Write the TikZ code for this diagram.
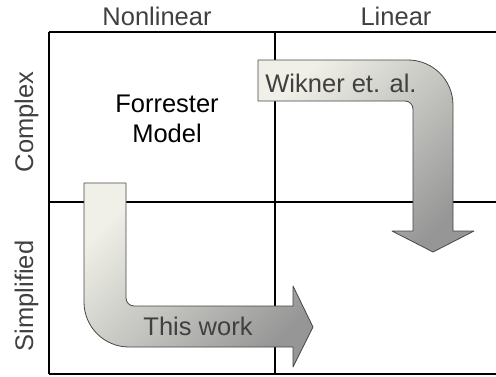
\documentclass[tikz,border=0pt]{standalone}
\usepackage{fontspec}
\setmainfont{Liberation Sans}
\definecolor{labelgray}{RGB}{64,64,64}
\definecolor{arrowlight}{RGB}{240,240,232}
\definecolor{arrowdark}{RGB}{150,150,150}
\definecolor{rimgray}{RGB}{70,70,70}
\begin{document}
\begin{tikzpicture}[x=1pt, y=-1pt, line join=round,
  grid/.style={line width=1.8pt},
  bigarrow/.style={draw=rimgray, line width=0.8pt, top color=arrowlight, bottom color=arrowdark, shading angle=45},
  lbl/.style={font=\fontsize{25.5}{30}\selectfont, text=labelgray, inner sep=0pt}]
	\useasboundingbox (0,0) rectangle (496,376);
	% the four fields
	\draw [grid] (49,32) -- (496,32);
	\draw [grid] (49,202) -- (496,202);
	\draw [grid] (49,374) -- (496,374);
	\draw [grid] (49,32) -- (49,374);
	\draw [grid] (275,32) -- (275,374);
	% axis labels
	\node [lbl, anchor=base] (nonlinear) at (157,25) {Nonlinear};
	\node [lbl, anchor=base] (linear) at (396,25) {Linear};
	\node [lbl, anchor=base, rotate=90] (complex) at (33,122) {Complex};
	\node [lbl, anchor=base, rotate=90] (simplified) at (33,296) {Simplified};
	\node [lbl, text=black, align=center] (forrester) at (167,119) {Forrester\\Model};
	% arrows
	\draw [bigarrow] (258,60) -- (408,60) .. controls (432.9,60) and (453,80.1) .. (453,105) -- (453,231) -- (474,231) -- (433,252) -- (392,231) -- (413,231) -- (413,109) .. controls (413,104.6) and (409.4,101) .. (405,101) -- (258,101) -- cycle;
	\draw [bigarrow] (84,183) -- (126,183) -- (126,298) .. controls (126,302.4) and (129.6,306) .. (134,306) -- (293,306) -- (293,286) -- (313,327) -- (293,367) -- (293,347) -- (129,347) .. controls (104.1,347) and (84,326.9) .. (84,302) -- cycle;
	\node [lbl, anchor=base] (wikner) at (341,92) {Wikner et. al.};
	\node [lbl, anchor=base] (thiswork) at (198,335) {This work};
\end{tikzpicture}
\end{document}
